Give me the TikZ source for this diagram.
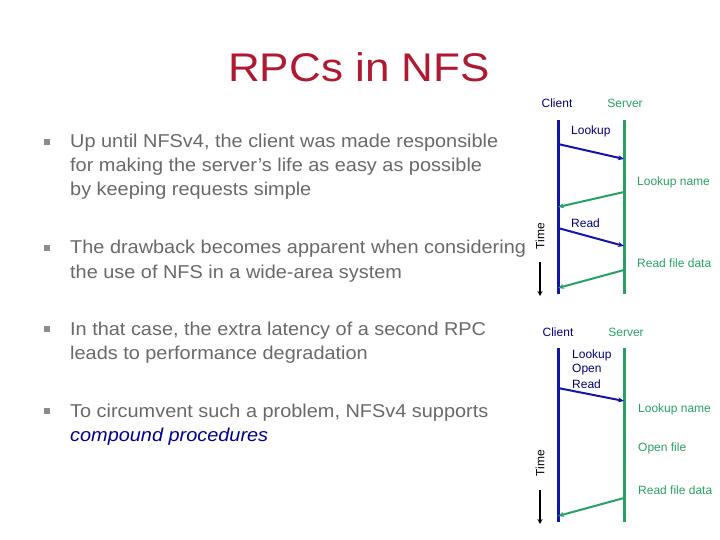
\documentclass[tikz,border=0pt]{standalone}
\usepackage{fontspec}
\setmainfont{Liberation Sans}
\usetikzlibrary{arrows.meta}
\definecolor{titlered}{RGB}{175,25,50}
\definecolor{bodygray}{RGB}{105,105,105}
\definecolor{bulletgray}{RGB}{140,140,140}
\definecolor{cblue}{RGB}{20,20,170}
\definecolor{sgreen}{RGB}{40,160,100}
\definecolor{lblue}{RGB}{0,0,120}
\definecolor{emblue}{RGB}{0,0,140}
\newcommand\bodyx[1]{\scalebox{1.07}[1]{#1}}
\tikzset{
  body/.style={font=\fontsize{18.6}{24}\selectfont, text=bodygray, anchor=base west, inner sep=0pt},
  bulletsq/.style={fill=bulletgray, minimum size=5.5pt, inner sep=0pt},
  clientline/.style={draw=cblue, line width=3pt},
  serverline/.style={draw=sgreen, line width=3pt},
  req/.style={draw=cblue, line width=2pt, -{Stealth[length=6pt,width=5pt]}},
  rep/.style={draw=sgreen, line width=2pt, -{Stealth[length=6pt,width=5pt]}},
  clab/.style={font=\fontsize{12}{14}\selectfont, text=lblue, inner sep=0pt},
  slab/.style={font=\fontsize{12}{14}\selectfont, text=sgreen, inner sep=0pt},
  timelab/.style={font=\fontsize{12}{14}\selectfont, text=black, rotate=90, inner sep=0pt},
  timearrow/.style={draw=black, line width=1.5pt, -{Stealth[length=5pt,width=5pt]}}
}
\begin{document}
\begin{tikzpicture}[x=1pt,y=-1pt]
\useasboundingbox (0,0) rectangle (720,540);
% title
\node[font=\fontsize{40}{48}\selectfont, text=titlered, inner sep=0pt] (title) at (359,67) {\scalebox{1.1}[1]{RPCs in NFS}};
% bullets
\node[bulletsq] (b1) at (47,142) {};
\node[body] (t11) at (70,148) {\bodyx{Up until NFSv4, the client was made responsible}};
\node[body] (t12) at (70,172) {\bodyx{for making the server’s life as easy as possible}};
\node[body] (t13) at (70,196) {\bodyx{by keeping requests simple}};
\node[bulletsq] (b2) at (47,248) {};
\node[body] (t21) at (70,254) {\bodyx{The drawback becomes apparent when considering}};
\node[body] (t22) at (70,278) {\bodyx{the use of NFS in a wide-area system}};
\node[bulletsq] (b3) at (47,329) {};
\node[body] (t31) at (70,335) {\bodyx{In that case, the extra latency of a second RPC}};
\node[body] (t32) at (70,359) {\bodyx{leads to performance degradation}};
\node[bulletsq] (b4) at (47,411) {};
\node[body] (t41) at (70,417) {\bodyx{To circumvent such a problem, NFSv4 supports}};
\node[body, text=emblue] (t42) at (70,441) {\bodyx{\itshape compound procedures}};
% ---- diagram 1
\node[clab] (c1) at (557,103) {Client};
\node[slab] (s1) at (625,103) {Server};
\coordinate (c1top) at (558,120);
\coordinate (c1bot) at (558,294);
\coordinate (s1top) at (624,120);
\coordinate (s1bot) at (624,294);
\draw[clientline] (c1top) -- (c1bot);
\draw[serverline] (s1top) -- (s1bot);
\coordinate (a1s) at (558,144); \coordinate (a1e) at (624,159);
\coordinate (a2s) at (624,192); \coordinate (a2e) at (558,207);
\coordinate (a3s) at (558,228); \coordinate (a3e) at (624,246);
\coordinate (a4s) at (624,270); \coordinate (a4e) at (558,288);
\draw[req] (a1s) -- (a1e);
\draw[rep] (a2s) -- (a2e);
\draw[req] (a3s) -- (a3e);
\draw[rep] (a4s) -- (a4e);
\node[clab, anchor=west] (l1) at (571,131) {Lookup};
\node[slab, anchor=west] (l2) at (637,182) {Lookup name};
\node[clab, anchor=west] (l3) at (571,223) {Read};
\node[slab, anchor=west] (l4) at (637,263) {Read file data};
\node[timelab] (time1) at (540,236) {Time};
\coordinate (ta1) at (540,262); \coordinate (tb1) at (540,296);
\draw[timearrow] (ta1) -- (tb1);
% ---- diagram 2
\node[clab] (c2) at (558,332) {Client};
\node[slab] (s2) at (626,332) {Server};
\coordinate (c2top) at (558,348);
\coordinate (c2bot) at (558,522);
\coordinate (s2top) at (624,348);
\coordinate (s2bot) at (624,522);
\draw[clientline] (c2top) -- (c2bot);
\draw[serverline] (s2top) -- (s2bot);
\coordinate (b1s) at (558,388); \coordinate (b1e) at (624,401);
\coordinate (b2s) at (624,498); \coordinate (b2e) at (558,516);
\draw[req] (b1s) -- (b1e);
\draw[rep] (b2s) -- (b2e);
\node[clab, anchor=west] (m1) at (572,355) {Lookup};
\node[clab, anchor=west] (m2) at (572,370) {Open};
\node[clab, anchor=west] (m3) at (572,384) {Read};
\node[slab, anchor=west] (m4) at (638,409) {Lookup name};
\node[slab, anchor=west] (m5) at (638,448) {Open file};
\node[slab, anchor=west] (m6) at (638,490) {Read file data};
\node[timelab] (time2) at (540,463) {Time};
\coordinate (ta2) at (540,490); \coordinate (tb2) at (540,524);
\draw[timearrow] (ta2) -- (tb2);
\end{tikzpicture}
\end{document}
